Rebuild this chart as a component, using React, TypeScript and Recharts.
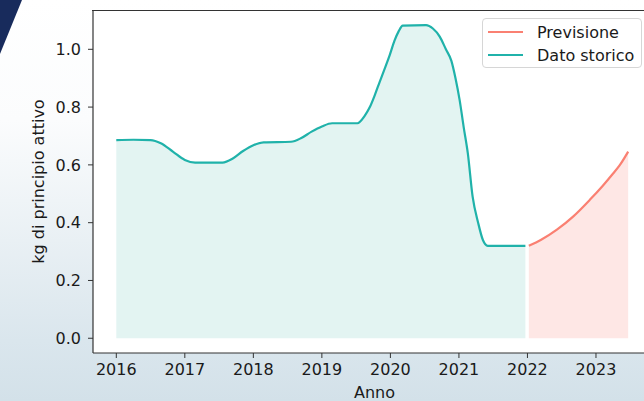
import { ComposedChart, Area, XAxis, YAxis, CartesianGrid } from 'recharts';

const historyYears = [
  2016.0, 2016.25, 2016.5, 2016.65, 2016.83, 2017.0, 2017.15, 2017.55, 2017.7, 2017.85,
  2018.0, 2018.15, 2018.55, 2018.7, 2018.85, 2019.0, 2019.15, 2019.52, 2019.62, 2019.7,
  2019.77, 2019.84, 2019.92, 2019.99, 2020.06, 2020.12, 2020.18, 2020.52, 2020.62, 2020.72,
  2020.81, 2020.89, 2020.95, 2021.01, 2021.07, 2021.13, 2021.2, 2021.28, 2021.35, 2021.42,
  2021.97,
];
const historyValues = [
  0.686, 0.687, 0.686, 0.675, 0.645, 0.617, 0.608, 0.608, 0.622, 0.648,
  0.668, 0.678, 0.68, 0.693, 0.715, 0.733, 0.744, 0.744, 0.768, 0.8,
  0.84, 0.885, 0.935, 0.98, 1.03, 1.062, 1.082, 1.084, 1.072, 1.044,
  1.0, 0.96, 0.9, 0.825, 0.73, 0.64, 0.49, 0.4, 0.34, 0.32,
  0.32,
];

const forecastYears = [2022.02, 2022.2, 2022.43, 2022.67, 2022.91, 2023.1, 2023.25, 2023.35, 2023.47];
const forecastValues = [0.32, 0.341, 0.376, 0.422, 0.479, 0.528, 0.57, 0.6, 0.646];

const yearTicks = [2016, 2017, 2018, 2019, 2020, 2021, 2022, 2023];
const valueTicks = [0.0, 0.2, 0.4, 0.6, 0.8, 1.0];

const HIST_COLOR = '#20b2aa';
const FORE_COLOR = '#fa8072';
const FONT = '"DejaVu Sans", sans-serif';

const historyData = historyYears.map((x, i) => ({ x, v: historyValues[i] }));
const forecastData = forecastYears.map((x, i) => ({ x, v: forecastValues[i] }));

const tickStyle = { fill: '#1a1a1a', fontSize: 16, fontFamily: FONT };

export default function App() {
  return (
    <div
      style={{
        position: 'absolute',
        top: 0,
        left: 0,
        width: 644,
        height: 401,
        overflow: 'hidden',
        background: 'linear-gradient(to bottom, #ffffff 0%, #fbfcfd 30%, #e9f0f4 60%, #dae6ed 85%, #d3e1e9 100%)',
        fontFamily: FONT,
      }}
    >
      <div
        style={{
          position: 'absolute',
          top: 0,
          left: 0,
          width: 22,
          height: 54,
          background: '#182b5c',
          clipPath: 'polygon(0 0, 100% 0, 55% 45%, 0 100%)',
        }}
      />
      <ComposedChart
        width={666}
        height={401}
        margin={{ top: 10, right: 10, bottom: 0, left: 0 }}
        style={{ position: 'absolute', top: 0, left: 0 }}
      >
        <CartesianGrid horizontal={false} vertical={false} fill="#ffffff" stroke="none" />
        <XAxis
          type="number"
          dataKey="x"
          domain={[2015.66, 2023.876]}
          allowDataOverflow
          ticks={yearTicks}
          height={48}
          tick={tickStyle}
          tickSize={5}
          tickMargin={6}
          tickLine={{ stroke: '#333' }}
          axisLine={{ stroke: '#333', strokeWidth: 1.2 }}
          label={{ value: 'Anno', position: 'insideBottom', offset: 3, fill: '#1a1a1a', fontSize: 16, fontFamily: FONT }}
        />
        <YAxis
          type="number"
          domain={[-0.051, 1.136]}
          allowDataOverflow
          ticks={valueTicks}
          width={93}
          tick={tickStyle}
          tickFormatter={(v: number) => v.toFixed(1)}
          tickSize={5}
          tickMargin={7}
          tickLine={{ stroke: '#333' }}
          axisLine={{ stroke: '#333', strokeWidth: 1.2 }}
          label={{
            value: 'kg di principio attivo',
            angle: -90,
            position: 'insideLeft',
            offset: 38,
            style: { textAnchor: 'middle' },
            fill: '#1a1a1a',
            fontSize: 16,
            fontFamily: FONT,
          }}
        />
        <Area
          data={historyData}
          dataKey="v"
          type="monotone"
          baseValue={0}
          stroke={HIST_COLOR}
          strokeWidth={2.2}
          fill="#e3f4f2"
          fillOpacity={1}
          isAnimationActive={false}
          dot={false}
          activeDot={false}
        />
        <Area
          data={forecastData}
          dataKey="v"
          type="monotone"
          baseValue={0}
          stroke={FORE_COLOR}
          strokeWidth={2.2}
          fill="#fee7e5"
          fillOpacity={1}
          isAnimationActive={false}
          dot={false}
          activeDot={false}
        />
      </ComposedChart>
      {/* top spine */}
      <div style={{ position: 'absolute', left: 92, top: 10, width: 560, height: 0, borderTop: '1.2px solid #333' }} />
      <div
        style={{
          position: 'absolute',
          left: 482,
          top: 18,
          width: 158,
          height: 48,
          border: '1px solid #d6d6d6',
          borderRadius: 4,
          background: 'rgba(255,255,255,0.85)',
          fontSize: 16,
          color: '#1a1a1a',
        }}
      >
        {[
          { name: 'Previsione', color: FORE_COLOR },
          { name: 'Dato storico', color: HIST_COLOR },
        ].map((item, i) => (
          <div
            key={item.name}
            style={{ position: 'absolute', left: 5, top: 2 + i * 23, height: 22, display: 'flex', alignItems: 'center' }}
          >
            <span style={{ display: 'inline-block', width: 35, height: 2.2, background: item.color, marginRight: 14 }} />
            <span style={{ whiteSpace: 'nowrap' }}>{item.name}</span>
          </div>
        ))}
      </div>
    </div>
  );
}
